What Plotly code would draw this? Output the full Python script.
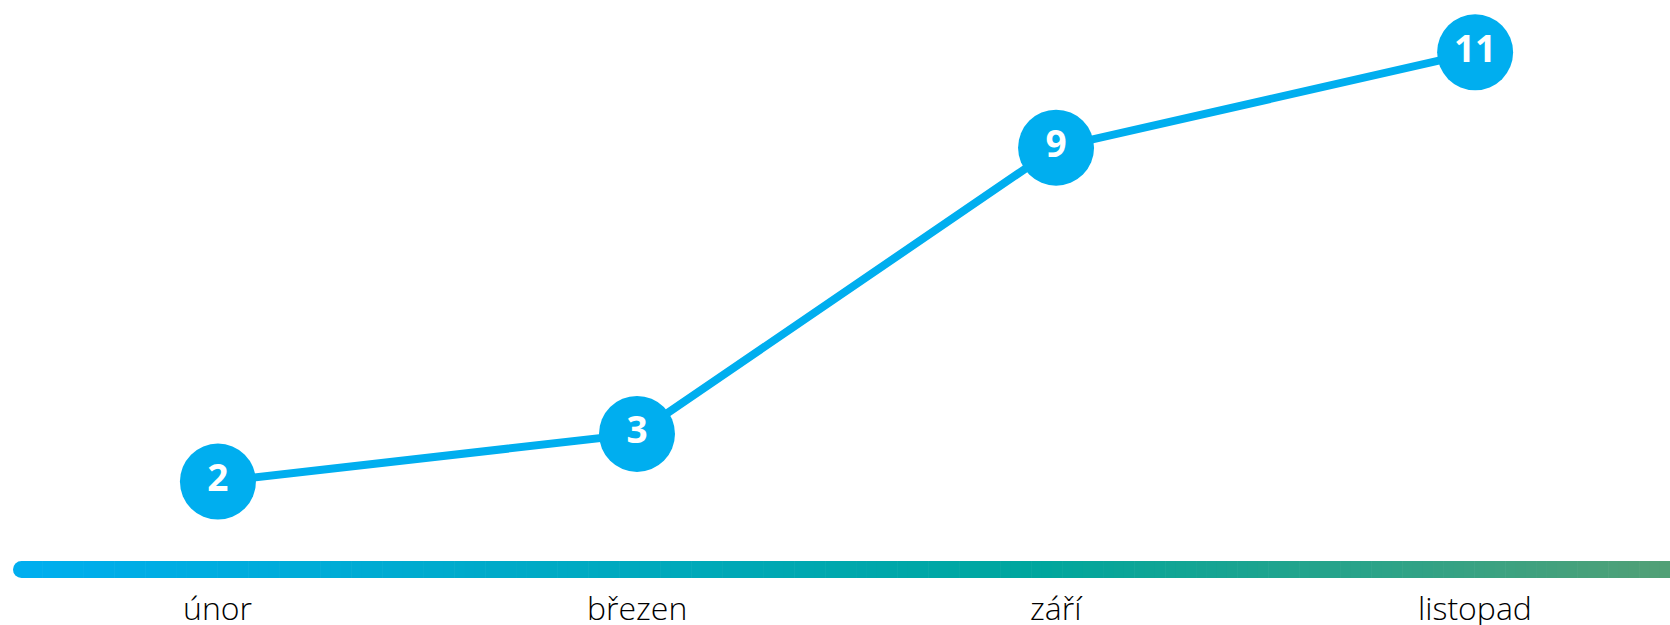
import plotly.graph_objects as go

# ---- data ----
categories = ["únor", "březen", "září", "listopad"]
values = [2, 3, 9, 11]
value_labels = ["2", "3", "9", "11"]

# ---- style ----
W, H = 1670, 625
MAIN = "#00AEEF"
grad_stops = [(0.0, (0, 174, 239)), (0.62, (0, 166, 157)), (1.0, (82, 160, 118))]


def grad_color(t):
    for (t0, c0), (t1, c1) in zip(grad_stops[:-1], grad_stops[1:]):
        if t0 <= t <= t1:
            f = (t - t0) / (t1 - t0) if t1 > t0 else 0
            return "rgb(%d,%d,%d)" % tuple(round(a + (b - a) * f) for a, b in zip(c0, c1))
    return "rgb(%d,%d,%d)" % grad_stops[-1][1]


fig = go.Figure()
fig.add_trace(go.Scatter(
    x=categories, y=values, mode="lines+markers+text",
    text=value_labels, textposition="middle center",
    textfont=dict(family="Open Sans", size=37, color="white", weight="bold"),
    line=dict(color=MAIN, width=8),
    marker=dict(color=MAIN, size=76, line=dict(width=0)),
    cliponaxis=False, hoverinfo="skip", showlegend=False,
))

# gradient baseline bar (decoration)
bar_x0, bar_x1 = 13, W
bar_yc, bar_h = 569.5, 17
shapes = []
r = bar_h / 2
shapes.append(dict(type="circle", xref="paper", yref="paper",
                   x0=bar_x0 / W, x1=(bar_x0 + bar_h) / W,
                   y0=1 - (bar_yc + r) / H, y1=1 - (bar_yc - r) / H,
                   fillcolor=grad_color(0), line=dict(width=0), layer="below"))
N = 160
start = bar_x0 + r
for i in range(N):
    xa = start + (bar_x1 - start) * i / N
    xb = start + (bar_x1 - start) * (i + 1) / N + 0.6
    shapes.append(dict(type="rect", xref="paper", yref="paper",
                       x0=xa / W, x1=min(xb, W) / W,
                       y0=1 - (bar_yc + r) / H, y1=1 - (bar_yc - r) / H,
                       fillcolor=grad_color((i + 0.5) / N), line=dict(width=0), layer="below"))

annotations = [dict(x=c, y=1 - 607 / H, xref="x", yref="paper", text=c, showarrow=False,
                    yanchor="middle", xanchor="center",
                    font=dict(family="Open Sans", size=32, color="#000000", weight=300))
               for c in categories]

fig.update_layout(
    width=W, height=H, margin=dict(l=0, r=0, t=0, b=0),
    paper_bgcolor="white", plot_bgcolor="white",
    xaxis=dict(visible=False, range=[-0.52, 3.465]),
    yaxis=dict(visible=False, range=[-1.006, 12.096]),
    shapes=shapes, annotations=annotations,
)
fig.write_html("out.html", config={"displayModeBar": False, "staticPlot": True},
               post_script="document.body.style.margin='0';document.body.style.overflow='hidden';")
